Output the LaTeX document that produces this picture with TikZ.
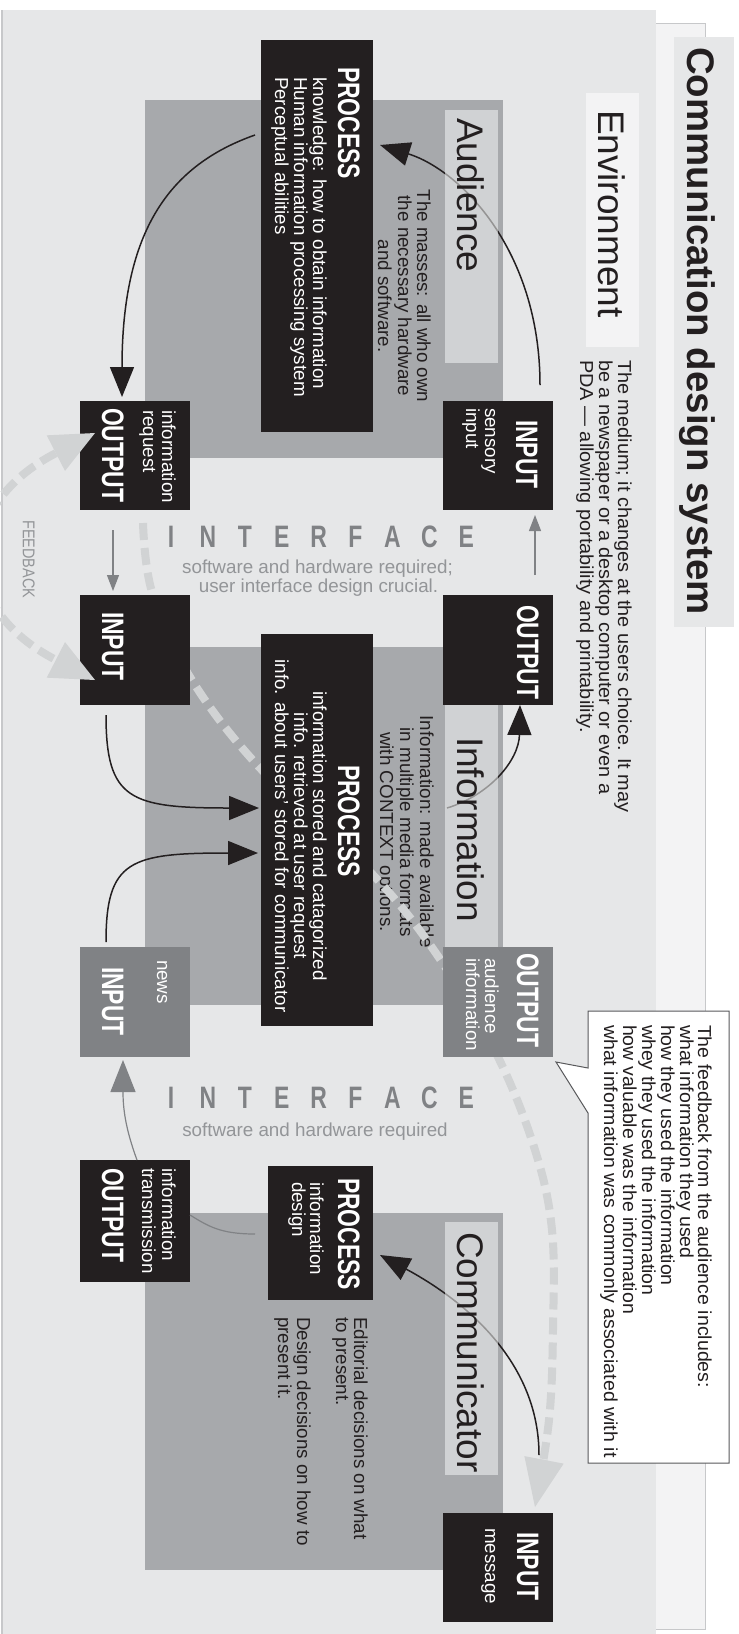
\documentclass[tikz,border=0pt]{standalone}
\usepackage{fontspec}
\setmainfont{Liberation Sans}
\newfontfamily\condb{Liberation Sans}[FakeStretch=0.74]
\newfontfamily\condr{Liberation Sans}[FakeStretch=0.85]
\newfontfamily\wideA{Liberation Sans}[FakeStretch=1.06]
\newfontfamily\wideB{Liberation Sans}[FakeStretch=1.04]
\usetikzlibrary{arrows.meta}
\definecolor{envgray}{HTML}{E6E7E8}
\definecolor{backgray}{HTML}{F3F3F4}
\definecolor{edgegray}{HTML}{C7C8CA}
\definecolor{regiongray}{HTML}{A7A9AC}
\definecolor{labelfill}{RGB}{243,245,245}
\definecolor{boxblack}{HTML}{231F20}
\definecolor{boxgray}{HTML}{808285}
\definecolor{ifgray}{HTML}{808285}
\definecolor{subgray}{HTML}{939598}
\definecolor{fbgray}{HTML}{D1D3D4}
\definecolor{calloutedge}{HTML}{58595B}
\newcommand\myBody{\fontsize{18.8}{19}\selectfont}
\newcommand\myHead{\condb\bfseries\fontsize{31}{31}\selectfont}
\newcommand\myBig{\fontsize{37}{40}\selectfont}
\tikzset{
 plainrect/.style={inner sep=0pt, outer sep=0pt, draw=none, shape=rectangle},
 tl/.style={inner sep=0pt, outer sep=0pt, anchor=base west, font=\myBody, text=boxblack},
 tc/.style={tl, anchor=base},
 wl/.style={tl, text=white},
 medl/.style={tl, font=\wideA\myBody},
 cbl/.style={tl, font=\wideB\myBody},
 hd/.style={inner sep=0pt, outer sep=0pt, anchor=base west, font=\myHead, text=white},
 biglbl/.style={inner sep=0pt, outer sep=0pt, anchor=base west, font=\myBig, text=boxblack},
 blk/.style={draw=boxblack, line width=1.5pt, -{Triangle[length=30pt,width=24pt]}},
 gry/.style={draw=boxgray, line width=1.2pt},
 fb/.style={draw=fbgray, line width=8pt, dash pattern=on 17pt off 8pt},
 iflet/.style={inner sep=0pt, anchor=base, rotate=90, font=\myHead, text=ifgray},
 ifsub/.style={inner sep=0pt, anchor=base, rotate=90, font=\myBody, text=subgray},
}
\newcommand\mkrect[6]{\node[plainrect,#1,minimum width={#4-#2},minimum height={#5-#3}] (#6) at ({(#2+#4)/2},{(#3+#5)/2}) {};}
\begin{document}
\begin{tikzpicture}[x=1pt,y=1pt]
\useasboundingbox (0,-1634) rectangle (739,0);
\clip (0,-1634) rectangle (739,0);
\fill[white] (0,-1634) rectangle (739,0);
\begin{scope}[rotate=-90, transform shape]
% ---------- backgrounds
\mkrect{fill=backgray, draw=edgegray, line width=0.8pt}{23}{400}{1629}{705}{backpanel}
\mkrect{fill=envgray}{10}{2}{1660}{656}{envpanel}
\draw[edgegray, line width=1.5pt] (envpanel.south west) -- (envpanel.south east);
\mkrect{fill=envgray}{37}{674}{627}{734}{titlebox}
\node[inner sep=0pt, anchor=base west, font=\bfseries\fontsize{38.4}{40}\selectfont, text=boxblack] (title) at (47,687) {Communication design system};
\mkrect{fill=backgray}{93}{586}{347}{639}{envlab}
\node[biglbl] (envtxt) at (110,598) {Environment};
\node[medl] (med1) at (360,618) {The medium; it changes at the users choice. It may};
\node[medl] (med2) at (360,599) {be a newspaper or a desktop computer or even a};
\node[medl] (med3) at (360,580) {PDA — allowing portability and printability.};
% ---------- regions
\mkrect{fill=regiongray}{100}{145}{458}{503}{audReg}
\mkrect{fill=regiongray}{647}{145}{1005}{503}{infReg}
\mkrect{fill=regiongray}{1213}{145}{1570}{503}{comReg}
% region descriptions
\node[tc] (aud1) at (296,417) {The masses: all who own};
\node[tc] (aud2) at (296,398) {the necessary hardware};
\node[tc] (aud3) at (296,378) {and software.};
\node[tc] (inf1) at (832,420) {Information: made available};
\node[tc] (inf2) at (832,400) {in multiple media formats};
\node[tc] (inf3) at (832,380) {with CONTEXT options.};
\node[tl] (com1) at (1317,354) {Editorial decisions on what};
\node[tl] (com2) at (1317,336) {to present.};
\node[tl] (com3) at (1317,297) {Design decisions on how to};
\node[tl] (com4) at (1317,278) {present it.};
% ---------- long feedback curve
\coordinate (fbTip) at (1507,535);
\draw[fb, -{Triangle[length=48pt,width=40pt,line width=0pt]}] plot[smooth, tension=0.6] coordinates {(523,143) (592,152) (677,190) (768,260) (877,375) (962,442) (1057,498) (1150,535) (1230,552) (1330,553) (1420,549) (fbTip)};
% ---------- arrows crossing label boxes
\coordinate (a1s) at (385,540); \coordinate (a1e) at (145,380);
\draw[blk] (a1s) .. controls (250,540) and (170,460) .. (a1e);
\coordinate (a7s) at (808,447); \coordinate (a7e) at (705,520);
\draw[blk] (a7s) .. controls (795,490) and (760,519) .. (a7e);
\coordinate (a8s) at (1455,539); \coordinate (a8e) at (1255,380);
\draw[blk] (a8s) .. controls (1350,539) and (1290,445) .. (a8e);
% ---------- label boxes
\mkrect{fill=labelfill, fill opacity=0.55}{110}{445}{363}{498}{audLab}
\mkrect{fill=labelfill, fill opacity=0.55}{690}{445}{990}{498}{infLab}
\mkrect{fill=labelfill, fill opacity=0.55}{1222}{445}{1475}{498}{comLab}
\node[biglbl] (audTxt) at (118,457) {Audience};
\node[biglbl] (infTxt) at (737,457) {Information};
\node[biglbl] (comTxt) at (1232,457) {Communicator};
% ---------- boxes
\mkrect{fill=boxblack}{40}{261}{432}{373}{procAud}
\mkrect{fill=boxblack}{401}{443}{510}{553}{inSens}
\mkrect{fill=boxblack}{401}{80}{510}{190}{outReq}
\mkrect{fill=boxblack}{595}{443}{705}{553}{outInfo}
\mkrect{fill=boxblack}{595}{80}{705}{190}{inMid}
\mkrect{fill=boxblack}{634}{261}{1026}{373}{procInfo}
\mkrect{fill=boxgray}{947}{443}{1057}{553}{outAud}
\mkrect{fill=boxgray}{947}{80}{1057}{190}{inNews}
\mkrect{fill=boxblack}{1160}{80}{1282}{190}{outTrans}
\mkrect{fill=boxblack}{1166}{268}{1300}{373}{procComm}
\mkrect{fill=boxblack}{1513}{443}{1622}{553}{inMsg}
% box texts
\node[hd] (pA) at (67,338) {PROCESS};
\node[wl] (pA1) at (77,313) {knowledge: how to obtain information};
\node[wl] (pA2) at (77,294) {Human information processing system};
\node[wl] (pA3) at (77,275) {Perceptual abilities};
\node[hd] (iS) at (420,516) {INPUT};
\node[wl] (iS1) at (408,485) {sensory};
\node[wl] (iS2) at (408,466) {input};
\node[wl] (oR1) at (410,162) {information};
\node[wl] (oR2) at (410,143) {request};
\node[hd] (oR) at (408,102) {OUTPUT};
\node[hd] (oI) at (605,517) {OUTPUT};
\node[hd] (iM) at (612,102) {INPUT};
\node[hd] (pI) at (765,338) {PROCESS};
\node[wl, anchor=base] (pI1) at (836,313) {information stored and catagorized};
\node[wl, anchor=base] (pI2) at (836,294) {info. retrieved at user request};
\node[wl, anchor=base] (pI3) at (836,275) {info. about users' stored for communicator};
\node[hd] (oA) at (953,517) {OUTPUT};
\node[wl] (oA1) at (958,485) {audience};
\node[wl] (oA2) at (958,466) {information};
\node[wl] (iN1) at (960,157) {news};
\node[hd] (iN) at (967,102) {INPUT};
\node[wl] (oT1) at (1168,162) {information};
\node[wl] (oT2) at (1168,142) {transmission};
\node[hd] (oT) at (1168,102) {OUTPUT};
\node[hd] (pC) at (1178,338) {PROCESS};
\node[wl] (pC1) at (1182,310) {information};
\node[wl] (pC2) at (1182,292) {design};
\node[hd] (iG) at (1532,517) {INPUT};
\node[wl] (iG1) at (1528,485) {message};
% ---------- other arrows
\coordinate (a2s) at (135,255); \coordinate (a2e) at (397,122);
\draw[blk] (a2s) .. controls (165,170) and (230,122) .. (a2e);
\coordinate (a3s) at (530,113); \coordinate (a3e) at (591,113);
\draw[gry, -{Triangle[length=16pt,width=12pt]}] (a3s) -- (a3e);
\coordinate (a4s) at (575,535); \coordinate (a4e) at (515,535);
\draw[gry, -{Triangle[length=16pt,width=12pt]}] (a4s) -- (a4e);
\coordinate (a5s) at (715,106); \coordinate (a5e) at (808,259);
\draw[blk] (a5s) .. controls (800,106) and (808,130) .. (a5e);
\coordinate (a6s) at (942,106); \coordinate (a6e) at (853,258);
\draw[blk] (a6s) .. controls (860,106) and (853,130) .. (a6e);
\coordinate (a9s) at (1234,255); \coordinate (a9e) at (1215,190);
\draw[gry] (a9s) .. controls (1234,220) and (1226,208) .. (a9e);
\coordinate (a10s) at (1160,137); \coordinate (a10e) at (1060,123);
\draw[gry, -{Triangle[length=32pt,width=25pt]}] (a10s) .. controls (1130,126) and (1110,123) .. (a10e);
% ---------- feedback arc
\coordinate (fbA) at (433,95); \coordinate (fbB) at (680,95);
\draw[fb, {Triangle[length=44pt,width=40pt,line width=0pt]}-{Triangle[length=44pt,width=40pt,line width=0pt]}] (fbA) .. controls (505,-45) and (608,-45) .. (fbB);
\node[inner sep=0pt, anchor=base west, font=\condr\fontsize{17}{17}\selectfont, text=subgray] (fbtxt) at (520,23) {FEEDBACK};
% ---------- interface labels
\foreach \L [count=\i from 0] in {I,N,T,E,R,F,A,C,E} {
  \node[iflet] (ifa\i) at (547, {171+36.9*\i}) {\L};
  \node[iflet] (ifb\i) at (1108, {171+36.9*\i}) {\L};
}
\node[ifsub] (ifaS1) at (573,317.5) {software and hardware required;};
\node[ifsub] (ifaS2) at (592,318.5) {user interface design crucial.};
\node[ifsub] (ifbS1) at (1136,315) {software and hardware required};
% ---------- callout
\draw[calloutedge, fill=white, line width=1pt] (1011,588) -- (1068,588) -- (1062,556) -- (1113,588) -- (1463,588) -- (1463,729) -- (1011,729) -- cycle;
\node[cbl] (cb1) at (1025,698) {The feedback from the audience includes:};
\node[cbl] (cb2) at (1025,680) {what information they used};
\node[cbl] (cb3) at (1025,661) {how they used the information};
\node[cbl] (cb4) at (1025,642) {whey they used the information};
\node[cbl] (cb5) at (1025,623) {how valuable was the information};
\node[cbl] (cb6) at (1025,604) {what information was commonly associated with it};
\end{scope}
\end{tikzpicture}
\end{document}
